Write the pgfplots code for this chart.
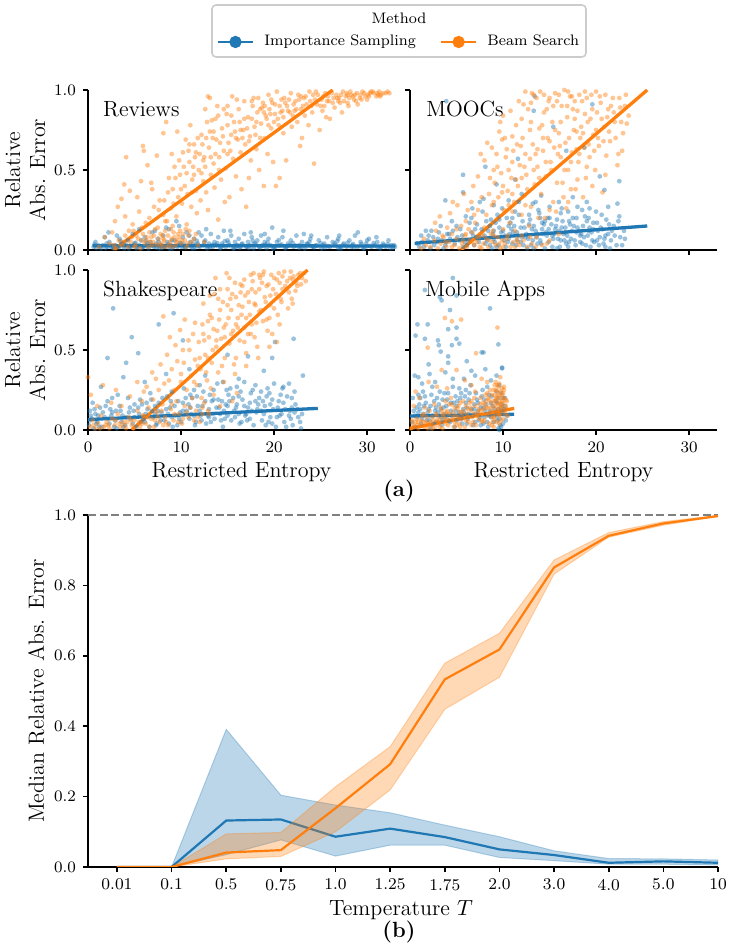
\documentclass[border=0pt]{standalone}
\usepackage{pgfplots}
\pgfplotsset{compat=1.18}
\definecolor{tabblue}{HTML}{1F77B4}
\definecolor{tabor}{HTML}{FF7F0E}
\tikzset{ptitle/.style={anchor=base west, inner sep=0pt, font=\fontsize{11}{13}\selectfont}}
\pgfplotsset{
  scat/.style={only marks, mark=*, color=#1, mark size=1.2pt, mark options={fill=#1, draw opacity=0, fill opacity=0.45}},
  reg/.style={no marks, line width=1.65pt, color=#1},
  base/.style={scale only axis, axis x line*=bottom, axis y line*=left,
    axis line style={-, line width=0.8pt}, tick align=outside, major tick length=2.5pt,
    tick style={line width=0.8pt, black},
    yticklabel style={/pgf/number format/fixed, /pgf/number format/fixed zerofill, /pgf/number format/precision=1},
    tick label style={font=\fontsize{8.2}{9}\selectfont},
    label style={font=\fontsize{11}{12.5}\selectfont}},
  panel/.style={base, width=153.5pt, height=80pt, xmin=0, xmax=33, ymin=0, ymax=1,
    xtick={0,10,20,30}, ytick={0,0.5,1}},
  leftlab/.style={ylabel={Relative\\Abs. Error}, ylabel style={at={(axis description cs:-0.205,0.5)}, anchor=center, align=center}},
  botlab/.style={xlabel={Restricted Entropy}, xlabel style={at={(axis description cs:0.5,0)}, anchor=base, yshift=-23.9pt}}
}
\begin{document}
\begin{tikzpicture}
\useasboundingbox (0,0) rectangle (365pt,475.5pt);
% legend frame
\draw[draw=black!20, line width=0.8pt, rounded corners=2pt, fill=white] (106pt,447pt) rectangle (293pt,473pt);
\node[font=\fontsize{7.6}{9}\selectfont] at (199.5pt,466.5pt) {Method};

% ---------------- Reviews ----------------
\begin{axis}[panel, leftlab, at={(44pt,350.5pt)}, anchor=south west, xticklabels={},
  legend columns=2, legend cell align=left,
  legend style={at={(1.016,1.3)}, anchor=center, draw=none, fill=none, font=\fontsize{7.6}{9}\selectfont,
    /tikz/every odd column/.append style={column sep=3pt},
    /tikz/every even column/.append style={column sep=10pt}},
  legend image code/.code={\draw[mark repeat=2,mark phase=2,#1] plot coordinates {(0pt,0pt) (8.75pt,0pt) (17.5pt,0pt)};}]
\addlegendimage{tabblue, line width=1.3pt, mark=*, mark size=2.4pt}
\addlegendentry{Importance Sampling}
\addlegendimage{tabor, line width=1.3pt, mark=*, mark size=2.4pt}
\addlegendentry{Beam Search}
\addplot[scat=tabblue] coordinates {
(0.6,0.02) (1.1,0.03) (1.4,0.01) (1.8,0.08) (2.1,0.02) (2.3,0.05) (2.7,0.01) (2.9,0.03) (3.2,0.02) (3.4,0.07) (3.6,0.04) (3.9,0.01) (4.1,0.03) (4.3,0.06) (4.6,0.02) (4.8,0.1) (5.0,0.04) (5.2,0.01) (5.5,0.03) (5.7,0.06) (5.9,0.02) (6.1,0.08) (6.3,0.03) (6.5,0.01) (6.7,0.05) (6.9,0.11) (7.1,0.02) (7.3,0.04) (7.5,0.07) (7.7,0.01) (7.9,0.03) (8.1,0.09) (8.3,0.02) (8.5,0.05) (8.7,0.13) (8.9,0.03) (9.1,0.01) (9.3,0.06) (9.5,0.18) (9.6,0.02) (9.8,0.15) (10.0,0.04) (10.2,0.08) (10.4,0.02) (10.6,0.11) (10.8,0.03) (11.0,0.05) (11.2,0.01) (11.4,0.07) (11.6,0.03) (11.8,0.04) (12.0,0.02) (12.2,0.09) (12.4,0.03) (12.6,0.06) (12.8,0.01) (13.0,0.04) (13.2,0.1) (13.4,0.02) (13.6,0.05) (13.8,0.03) (14.0,0.08) (14.2,0.01) (14.4,0.04) (14.6,0.12) (14.8,0.02) (15.0,0.06) (15.2,0.03) (15.4,0.09) (15.6,0.01) (15.8,0.05) (16.0,0.03) (16.2,0.07) (16.4,0.02) (16.6,0.04) (16.8,0.1) (17.0,0.02) (17.2,0.05) (17.4,0.03) (17.6,0.08) (17.8,0.01) (18.0,0.04) (18.2,0.06) (18.4,0.02) (18.6,0.09) (18.8,0.03) (19.0,0.05) (19.2,0.01) (19.4,0.07) (19.6,0.03) (19.8,0.14) (20.0,0.02) (20.3,0.05) (20.6,0.03) (20.9,0.08) (21.2,0.01) (21.5,0.04) (21.8,0.06) (22.1,0.02) (22.4,0.09) (22.7,0.03) (23.0,0.05) (23.3,0.01) (23.6,0.04) (23.9,0.07) (24.2,0.02) (24.5,0.03) (24.8,0.06) (25.1,0.01) (25.4,0.04) (25.7,0.08) (26.0,0.02) (26.3,0.05) (26.6,0.03) (26.9,0.07) (27.2,0.01) (27.5,0.04) (27.8,0.02) (28.1,0.06) (28.4,0.03) (28.7,0.09) (29.0,0.02) (29.3,0.05) (29.6,0.01) (29.9,0.04) (30.2,0.07) (30.5,0.02) (30.8,0.03) (31.1,0.05) (31.4,0.01) (31.7,0.04) (32.0,0.02) (32.3,0.06) (32.6,0.03) (33,0.02)
(0.9,0.012) (2.5,0.018) (4.4,0.009) (6.0,0.022) (7.4,0.015) (8.8,0.008) (10.1,0.019) (11.5,0.012) (12.9,0.025) (14.3,0.017) (15.7,0.011) (17.1,0.021) (18.5,0.014) (19.9,0.008) (21.3,0.019) (22.7,0.013) (24.1,0.024) (25.5,0.016) (26.9,0.01) (28.3,0.02) (29.7,0.013) (31.1,0.018) (32.5,0.011) (1.6,0.03) (3.0,0.025) (5.3,0.018) (6.8,0.029) (8.2,0.02) (9.7,0.03) (11.1,0.024) (13.5,0.032) (16.1,0.028) (18.9,0.026) (21.7,0.031) (24.6,0.027) (27.4,0.033) (30.3,0.025) (32.9,0.03)
(0.7,0.035) (1.3,0.022) (2.0,0.04) (2.6,0.028) (3.3,0.015) (3.8,0.038) (4.5,0.026) (5.1,0.045) (5.8,0.012) (6.4,0.04) (7.0,0.03) (7.6,0.05) (8.0,0.014) (8.6,0.037) (9.2,0.024) (9.9,0.045) (10.5,0.016) (11.3,0.04) (11.9,0.027) (12.5,0.05) (13.1,0.019) (13.9,0.042) (14.5,0.028) (15.1,0.045) (15.9,0.02) (16.5,0.036) (17.3,0.013) (17.9,0.04) (18.7,0.027) (19.3,0.046) (20.1,0.018) (20.8,0.035) (21.4,0.025) (22.0,0.044) (22.9,0.02) (23.5,0.038) (24.3,0.016) (25.0,0.042) (25.8,0.025) (26.5,0.04) (27.1,0.02) (27.9,0.045) (28.6,0.017) (29.4,0.037) (30.0,0.024) (30.7,0.043) (31.5,0.02) (32.2,0.036) (32.8,0.014) (7.2,0.12) (10.9,0.09) (12.7,0.13) (17.5,0.11) (23.2,0.1) (27.0,0.09) (31.0,0.08) (5.5,0.13) (3.1,0.09)
(0.8,0.05) (1.9,0.012) (3.5,0.055) (4.9,0.03) (6.2,0.055) (7.8,0.025) (9.0,0.06) (10.3,0.035) (11.7,0.058) (13.3,0.03) (14.7,0.055) (16.3,0.014) (17.7,0.058) (19.1,0.032) (20.5,0.062) (22.3,0.028) (23.8,0.05) (25.3,0.03) (26.8,0.055) (28.5,0.038) (30.0,0.06) (31.8,0.03) (2.2,0.11) (8.4,0.14) (11.9,0.11) (15.3,0.12) (19.0,0.1) (21.0,0.12) (24.0,0.09) (29.0,0.11)
};
\addplot[reg=tabblue] coordinates {(0.5,0.027) (33,0.025)};
\addplot[scat=tabor] coordinates {
(1.2,0.02) (1.8,0.08) (2.3,0.04) (2.6,0.11) (3.0,0.01) (3.3,0.06) (3.7,0.03) (4.0,0.09) (4.3,0.02) (4.6,0.05) (4.9,0.12) (5.1,0.03) (5.4,0.07) (5.6,0.01) (5.9,0.1) (6.1,0.04) (6.3,0.06) (6.5,0.02) (6.8,0.08) (7.0,0.05) (7.2,0.13) (7.4,0.03) (7.6,0.07) (7.8,0.1) (8.0,0.04) (8.2,0.06) (8.4,0.02) (8.6,0.09) (8.8,0.05) (9.0,0.07) (9.2,0.11) (9.4,0.03) (9.6,0.06) (9.8,0.08) (10.0,0.04) (10.2,0.1) (10.4,0.06) (10.6,0.02) (10.8,0.09) (11.1,0.05) (11.4,0.07) (11.8,0.03) (6.6,0.11) (8.9,0.13) (7.9,0.02) (9.9,0.12) (5.2,0.09)
(3.6,0.32) (4.0,0.21) (4.1,0.58) (4.5,0.37) (5.3,0.33) (5.7,0.43) (5.9,0.65) (6.0,0.62) (6.4,0.53) (6.8,0.42) (6.9,0.38) (7.1,0.27) (7.7,0.31) (8.1,0.22) (8.1,0.73) (8.4,0.8) (2.9,0.18) (3.2,0.27) (4.8,0.16) (5.5,0.24) (6.2,0.17) (3.9,0.41) (7.4,0.59)
(8.2,0.31) (8.5,0.18) (8.7,0.45) (8.9,0.26) (9.1,0.38) (9.3,0.52) (9.5,0.21) (9.7,0.33) (9.9,0.47) (10.1,0.29) (10.2,0.61) (10.4,0.4) (10.6,0.16) (10.7,0.35) (10.9,0.55) (11.1,0.27) (11.2,0.44) (11.4,0.66) (11.6,0.37) (11.7,0.23) (11.9,0.5) (12.1,0.31) (12.2,0.72) (12.4,0.43) (12.5,0.58) (12.7,0.36) (12.9,0.25) (13.0,0.64) (13.2,0.47) (13.3,0.81) (13.5,0.54) (13.6,0.39) (13.8,0.69) (14.0,0.19) (14.1,0.58) (14.3,0.44) (14.4,0.76) (14.6,0.62) (14.8,0.51) (14.9,0.85) (15.1,0.67) (15.2,0.33) (15.4,0.72) (15.6,0.57) (15.7,0.8) (15.9,0.46) (16.1,0.69) (16.2,0.88) (16.4,0.61) (16.5,0.38) (16.7,0.75) (16.9,0.66) (17.0,0.27) (17.2,0.83) (17.4,0.71) (17.5,0.56) (17.7,0.9) (17.9,0.77) (18.1,0.63) (18.2,0.86) (18.4,0.5) (18.6,0.79) (18.8,0.92) (19.0,0.7) (19.1,0.84) (19.3,0.6) (19.5,0.88) (19.7,0.76) (19.9,0.55) (20.1,0.91) (20.2,0.4) (20.4,0.82) (20.6,0.45) (20.8,0.94) (21.0,0.73) (21.3,0.56) (21.5,0.87) (12.8,0.8) (13.4,0.7) (11.0,0.78) (9.6,0.74) (10.5,0.69) (12.0,0.6) (14.7,0.3) (16.0,0.94) (17.3,0.45) (18.9,0.4) (11.3,0.52) (9.0,0.6) (13.9,0.9) (15.5,0.96) (12.9,0.96) (13.1,0.95)
(18.3,0.95) (18.7,0.89) (19.4,0.97) (19.8,0.92) (20.3,0.99) (20.7,0.86) (21.1,0.95) (21.4,0.9) (21.8,0.98) (22.0,0.84) (22.3,0.93) (22.6,0.97) (22.9,0.88) (23.2,0.95) (23.5,0.91) (23.8,0.99) (24.1,0.86) (24.4,0.94) (24.7,0.97) (25.0,0.9) (25.3,0.96) (25.6,0.83) (25.9,0.93) (26.2,0.98) (26.5,0.89) (26.8,0.95) (27.1,0.92) (27.4,0.99) (27.7,0.96) (28.0,0.9) (28.3,0.97) (28.6,0.94) (28.9,0.98) (29.2,0.95) (29.5,0.99) (29.8,0.96) (30.1,0.97) (30.4,0.99) (30.7,0.98) (31.0,0.96) (31.3,0.99) (31.7,0.98) (32.2,0.99) (22.5,0.8) (23.7,0.78) (24.9,0.75) (21.9,0.77) (26.0,0.82) (27.3,0.86) (19.2,0.82) (20.5,0.78) (23.0,0.7) (24.3,0.54) (22.8,0.65) (25.4,0.9) (26.9,0.93) (28.1,0.95) (29.0,0.91) (30.0,0.94) (31.2,0.97) (27.9,0.97)
(10.3,0.52) (10.8,0.62) (11.5,0.58) (12.3,0.66) (12.6,0.52) (13.1,0.74) (13.7,0.6) (14.2,0.67) (14.5,0.71) (15.0,0.78) (15.3,0.62) (15.8,0.74) (16.3,0.8) (16.6,0.7) (17.1,0.76) (17.6,0.82) (18.0,0.72) (18.5,0.88) (19.0,0.9) (19.6,0.85) (20.0,0.8) (20.9,0.87) (21.2,0.92) (21.7,0.86) (22.1,0.91) (22.4,0.88) (22.7,0.94) (23.1,0.9) (23.4,0.96) (23.9,0.93) (24.2,0.97) (24.6,0.91) (25.1,0.94) (25.5,0.98) (25.8,0.96) (26.3,0.92) (26.7,0.97) (27.0,0.95) (27.5,0.93) (27.8,0.98) (28.2,0.99) (28.5,0.96) (28.8,0.93) (29.3,0.97) (29.7,0.98) (30.2,0.96) (30.6,0.99) (31.1,0.98) (31.5,0.97) (32.0,0.98) (14.0,0.84) (15.0,0.9) (16.8,0.93) (17.8,0.95) (12.6,0.88) (11.8,0.7) (10.9,0.66) (9.4,0.45) (8.6,0.36) (9.8,0.56) (6.3,0.08) (7.1,0.09) (7.7,0.04) (8.3,0.12) (8.7,0.03) (9.3,0.08) (9.7,0.1) (10.1,0.06) (10.5,0.13) (6.9,0.03) (5.8,0.06) (4.7,0.08) (7.5,0.14) (8.0,0.09) (9.1,0.15) (10.9,0.12)
(10.6,0.48) (11.2,0.36) (11.6,0.61) (12.2,0.48) (12.7,0.7) (13.2,0.58) (13.7,0.82) (14.1,0.5) (14.6,0.88) (15.0,0.6) (15.4,0.84) (15.9,0.7) (16.4,0.75) (16.8,0.82) (17.3,0.68) (17.6,0.93) (18.1,0.8) (18.5,0.7) (18.9,0.86) (19.4,0.78) (19.7,0.94) (20.1,0.85) (20.6,0.9) (21.0,0.83) (21.6,0.94) (22.2,0.87) (22.9,0.96) (23.3,0.84) (24.0,0.9) (24.5,0.99) (25.2,0.87) (25.7,0.93) (26.4,0.95) (27.2,0.97) (27.9,0.92) (28.7,0.97) (29.4,0.94) (30.3,0.98) (31.4,0.96) (32.4,0.98) (13.5,0.74) (12.4,0.56) (11.4,0.47) (10.0,0.38) (9.2,0.29) (8.3,0.18) (7.6,0.25) (6.6,0.2) (5.8,0.14) (4.4,0.12) (3.8,0.05) (2.8,0.03) (5.0,0.02) (6.7,0.05) (8.1,0.07) (9.5,0.05) (10.7,0.04) (11.6,0.1) (12.5,0.05) (9.0,0.02)
};
\addplot[reg=tabor] coordinates {(2.7,0) (26.3,1.0)};
\node[ptitle] at (rel axis cs:0.048,0.837) {Reviews};
\end{axis}

% ---------------- MOOCs ----------------
\begin{axis}[panel, at={(205pt,350.5pt)}, anchor=south west, xticklabels={}, yticklabels={}]
\addplot[scat=tabblue] coordinates {
(0.8,0.04) (1.2,0.09) (1.5,0.02) (1.9,0.06) (2.3,0.12) (2.6,0.03) (3.0,0.07) (3.3,0.15) (3.6,0.01) (3.9,0.05) (4.2,0.1) (4.5,0.18) (4.8,0.04) (5.1,0.08) (5.4,0.13) (5.7,0.02) (6.0,0.21) (6.3,0.06) (6.6,0.11) (6.9,0.03) (7.2,0.16) (7.5,0.08) (7.8,0.24) (8.1,0.04) (8.4,0.12) (8.7,0.19) (9.0,0.07) (9.3,0.02) (9.6,0.14) (9.9,0.26) (10.2,0.09) (10.5,0.05) (10.8,0.17) (11.1,0.11) (11.4,0.03) (11.7,0.22) (12.0,0.08) (12.3,0.14) (12.6,0.01) (12.9,0.19) (13.2,0.06) (13.5,0.12) (13.8,0.25) (14.1,0.04) (14.4,0.16) (14.7,0.09) (15.0,0.2) (15.3,0.02) (15.6,0.13) (15.9,0.07) (16.2,0.23) (16.5,0.1) (16.8,0.04) (17.1,0.18) (17.4,0.12) (17.7,0.06) (18.0,0.27) (18.3,0.09) (18.6,0.15) (18.9,0.03) (19.2,0.2) (19.5,0.11) (19.8,0.05) (20.1,0.17) (20.4,0.08) (20.7,0.13) (21.0,0.02) (21.3,0.1) (21.6,0.06) (21.9,0.15) (22.2,0.03) (22.6,0.08) (23.0,0.12)
(8.3,0.06) (8.9,0.1) (9.5,0.03) (10.0,0.12) (10.6,0.07) (11.2,0.15) (11.9,0.05) (12.5,0.1) (13.0,0.03) (13.6,0.08) (14.2,0.13) (14.9,0.05) (15.5,0.1) (16.1,0.02) (16.7,0.14) (17.3,0.07) (17.9,0.11) (18.5,0.04) (19.1,0.09) (19.7,0.13) (20.3,0.03) (20.9,0.07) (9.2,0.17) (10.4,0.2) (11.6,0.09) (12.8,0.16) (14.0,0.2) (15.2,0.16) (16.4,0.18) (17.6,0.15) (18.8,0.21) (20.0,0.24) (13.3,0.01) (15.8,0.01) (17.0,0.02) (19.4,0.02) (21.5,0.01) (7.0,0.13) (6.4,0.17) (5.6,0.09) (4.3,0.07) (3.1,0.11) (2.0,0.09) (9.7,0.08) (11.0,0.04) (14.6,0.11) (18.2,0.12)
(8.0,0.09) (8.6,0.15) (9.1,0.05) (9.8,0.11) (10.3,0.02) (10.9,0.13) (11.5,0.06) (12.1,0.18) (12.7,0.07) (13.1,0.13) (13.7,0.04) (14.3,0.1) (14.8,0.2) (15.4,0.07) (16.0,0.12) (16.6,0.06) (17.2,0.16) (17.8,0.03) (18.4,0.1) (19.0,0.18) (19.6,0.06) (20.2,0.12) (20.8,0.04) (21.4,0.16) (22.0,0.09) (22.8,0.03) (7.4,0.05) (6.8,0.09) (6.1,0.03) (5.3,0.06) (4.6,0.12) (3.8,0.03) (2.9,0.05) (2.2,0.01) (1.3,0.05) (9.4,0.22) (11.3,0.24) (13.9,0.23) (16.3,0.26) (18.5,0.25) (20.6,0.22) (12.2,0.03) (14.5,0.01) (16.9,0.09) (19.3,0.14) (21.1,0.19) (10.7,0.1) (15.7,0.15) (17.9,0.2) (8.8,0.01)
(5.0,0.15) (5.9,0.05) (6.6,0.2) (7.1,0.08) (7.7,0.13) (8.2,0.18) (8.6,0.03) (9.0,0.12) (9.6,0.19) (10.1,0.06) (10.6,0.15) (11.0,0.2) (11.5,0.11) (11.9,0.14) (12.4,0.08) (12.8,0.22) (13.3,0.15) (13.7,0.1) (14.0,0.06) (14.5,0.18) (14.9,0.13) (15.3,0.09) (15.8,0.19) (16.2,0.06) (16.7,0.11) (17.1,0.05) (17.5,0.2) (18.0,0.14) (18.3,0.05) (18.7,0.08) (19.2,0.12) (19.7,0.17) (20.1,0.06) (20.5,0.14) (21.0,0.09) (21.7,0.12) (22.4,0.18) (23.1,0.07) (4.0,0.1) (3.4,0.06) (2.5,0.08) (1.7,0.12) (1.0,0.02) (13.5,0.3) (15.0,0.27) (17.0,0.24) (19.3,0.26) (11.7,0.3) (9.0,0.28) (7.5,0.3) (6.7,0.26) (21.3,0.27) (14.2,0.17) (16.3,0.14)
(13.4,0.96) (13.3,0.87) (3.9,0.93) (19.6,0.91) (15.4,0.77) (18.75,0.64) (16.8,0.62) (11.6,0.57) (8.1,0.52) (5.7,0.47) (22.5,0.43) (20.4,0.46) (20.9,0.375) (9.3,0.41) (3.8,0.31) (5.7,0.36) (7.9,0.32) (14.1,0.34) (13.2,0.29) (22.3,0.29) (22.5,0.21) (16.0,0.3) (17.5,0.33) (12.0,0.35) (10.6,0.31) (19.0,0.3) (11.3,0.44)
};
\addplot[reg=tabblue] coordinates {(0.5,0.042) (25.5,0.15)};
\addplot[scat=tabor] coordinates {
(1.2,0.01) (1.7,0.03) (2.2,0.02) (2.6,0.06) (3.0,0.01) (3.3,0.04) (3.6,0.08) (3.9,0.02) (4.2,0.05) (4.5,0.1) (4.8,0.03) (5.0,0.07) (5.3,0.01) (5.6,0.04) (5.9,0.09) (6.1,0.02) (6.4,0.06) (6.7,0.11) (6.9,0.03) (7.2,0.05) (7.4,0.08) (7.7,0.01) (7.9,0.04) (8.2,0.07) (8.4,0.02) (8.7,0.1) (8.9,0.05) (9.2,0.03) (9.4,0.08) (9.7,0.01) (9.9,0.06) (10.2,0.04) (10.5,0.09) (10.8,0.02) (11.1,0.05) (11.5,0.07) (11.8,0.03) (12.2,0.06) (12.6,0.02) (13.1,0.04) (13.6,0.08) (14.2,0.03) (2.8,0.12) (4.0,0.14) (5.5,0.15) (6.3,0.13) (7.0,0.17) (8.0,0.14) (3.5,0.09) (1.5,0.07)
(3.2,0.21) (4.3,0.23) (5.1,0.28) (4.6,0.3) (5.8,0.35) (6.6,0.3) (6.8,0.4) (7.3,0.46) (8.0,0.56) (7.6,0.6) (8.3,0.67) (8.8,0.64) (9.6,0.74) (9.9,0.69) (10.0,0.84) (9.0,0.5) (2.7,0.17)
(8.2,0.22) (8.5,0.35) (8.8,0.28) (9.1,0.42) (9.3,0.19) (9.5,0.33) (9.8,0.48) (10.1,0.25) (10.3,0.58) (10.5,0.37) (10.7,0.17) (10.9,0.45) (11.1,0.62) (11.2,0.3) (11.4,0.78) (11.6,0.4) (11.8,0.53) (12.0,0.22) (12.1,0.7) (12.3,0.34) (12.5,0.47) (12.7,0.88) (12.9,0.57) (13.0,0.27) (13.2,0.66) (13.4,0.41) (13.6,0.95) (13.7,0.52) (13.9,0.76) (14.1,0.35) (14.3,0.62) (14.4,0.86) (14.6,0.46) (14.8,0.7) (15.0,0.25) (15.1,0.55) (15.3,0.8) (15.5,0.64) (15.6,0.98) (15.8,0.42) (16.0,0.73) (16.2,0.58) (16.3,0.9) (16.5,0.33) (16.7,0.67) (16.9,0.83) (17.0,0.5) (17.2,0.96) (17.4,0.61) (17.6,0.75) (17.8,0.38) (18.0,0.87) (18.1,0.55) (18.3,0.7) (18.5,0.93) (18.7,0.64) (18.9,0.45) (19.1,0.8) (19.3,0.58) (19.5,0.97) (19.7,0.72) (19.9,0.5) (20.1,0.86) (20.3,0.65) (20.5,0.92) (20.7,0.36) (20.9,0.77) (21.1,0.59) (21.3,0.88) (21.5,0.68) (21.8,0.95) (22.0,0.8) (22.3,0.53) (22.6,0.89) (22.9,0.73) (23.2,0.97) (23.5,0.84) (12.4,0.99) (13.3,0.97) (14.0,0.99) (11.7,0.93) (10.8,0.87) (9.7,0.8) (14.9,0.93) (16.6,1.0) (18.8,0.99) (17.9,0.74) (13.8,0.2) (15.4,0.3) (16.8,0.26) (18.6,0.33) (19.6,0.4) (17.3,0.38) (12.8,0.15) (11.3,0.12)
(10.0,0.4) (10.6,0.5) (11.0,0.35) (11.5,0.66) (12.0,0.45) (12.4,0.6) (12.9,0.75) (13.3,0.5) (13.7,0.63) (14.2,0.78) (14.6,0.55) (15.0,0.68) (15.4,0.9) (15.9,0.6) (16.2,0.8) (16.6,0.5) (17.1,0.7) (17.5,0.88) (17.9,0.63) (18.4,0.77) (18.8,0.85) (19.2,0.66) (19.6,0.88) (20.0,0.75) (20.4,0.96) (20.8,0.68) (21.2,0.83) (21.6,0.9) (22.1,0.7) (22.5,0.95) (22.8,0.62) (23.3,0.79) (14.4,0.97) (15.0,0.95) (16.0,0.97) (17.0,0.99) (17.7,0.93) (18.2,0.97) (19.0,0.95) (13.0,0.92) (12.0,0.82) (11.0,0.71) (10.4,0.63) (9.3,0.6) (8.6,0.45) (7.7,0.33) (6.9,0.22) (6.0,0.18) (8.5,0.06) (9.6,0.04) (10.4,0.07) (11.3,0.02) (12.0,0.09) (4.5,0.02) (5.7,0.06) (7.5,0.02) (13.5,0.02) (15.0,0.06) (6.7,0.05) (8.9,0.12)
(9.0,0.3) (9.4,0.52) (9.9,0.36) (10.2,0.7) (10.6,0.28) (11.0,0.55) (11.4,0.44) (11.9,0.65) (12.3,0.52) (12.6,0.38) (13.0,0.8) (13.5,0.6) (13.9,0.45) (14.3,0.7) (14.7,0.88) (15.2,0.5) (15.6,0.75) (16.1,0.65) (16.4,0.42) (16.9,0.9) (17.3,0.55) (17.7,0.82) (18.2,0.6) (18.6,0.73) (19.0,0.52) (19.4,0.82) (19.8,0.62) (20.2,0.7) (20.6,0.82) (21.0,0.47) (21.4,0.74) (21.9,0.86) (22.4,0.6) (22.7,0.8) (23.1,0.9) (12.2,0.91) (13.1,0.98) (15.8,0.93) (17.4,0.96) (20.0,0.99) (21.0,0.97) (11.0,0.24) (12.4,0.28) (14.5,0.2) (15.7,0.24) (17.0,0.3) (18.0,0.44) (10.0,0.13) (7.3,0.25) (6.2,0.25) (5.0,0.13) (3.8,0.05) (6.0,0.1) (7.8,0.09) (9.0,0.09) (10.0,0.02) (11.6,0.05) (12.9,0.08) (14.7,0.04) (16.0,0.1)
};
\addplot[reg=tabor] coordinates {(5.5,0) (25.5,1.0)};
\node[ptitle] at (rel axis cs:0.052,0.837) {MOOCs};
\end{axis}

% ---------------- Shakespeare ----------------
\begin{axis}[panel, leftlab, botlab, at={(44pt,260.5pt)}, anchor=south west]
\addplot[scat=tabblue] coordinates {
(0.1,0.03) (0.2,0.12) (0.4,0.07) (0.6,0.01) (0.8,0.1) (1.0,0.05) (1.3,0.14) (1.5,0.02) (1.8,0.08) (2.1,0.18) (2.3,0.04) (2.6,0.11) (2.9,0.06) (3.1,0.01) (3.4,0.15) (3.7,0.09) (4.0,0.03) (4.3,0.2) (4.6,0.07) (4.9,0.12) (5.2,0.02) (5.5,0.1) (5.8,0.16) (6.1,0.05) (6.4,0.13) (6.7,0.23) (7.0,0.08) (7.3,0.03) (7.6,0.17) (7.9,0.11) (8.2,0.06) (8.5,0.21) (8.8,0.14) (9.1,0.02) (9.4,0.09) (9.7,0.18) (10.0,0.05) (10.3,0.26) (10.6,0.12) (10.9,0.07) (11.2,0.2) (11.5,0.03) (11.8,0.15) (12.1,0.09) (12.4,0.24) (12.7,0.04) (13.0,0.13) (13.3,0.18) (13.6,0.07) (13.9,0.29) (14.2,0.1) (14.5,0.02) (14.8,0.16) (15.1,0.22) (15.4,0.06) (15.7,0.12) (16.0,0.27) (16.3,0.04) (16.6,0.19) (16.9,0.09) (17.2,0.14) (17.5,0.23) (17.8,0.03) (18.1,0.11) (18.4,0.2) (18.7,0.06) (19.0,0.15) (19.3,0.26) (19.6,0.08) (19.9,0.13) (20.2,0.02) (20.5,0.18) (20.8,0.1) (21.1,0.05) (21.4,0.21) (21.7,0.12) (22.0,0.03) (22.3,0.16) (22.6,0.08) (22.9,0.01)
(1.1,0.09) (2.4,0.13) (3.6,0.05) (5.0,0.08) (6.2,0.1) (7.5,0.12) (8.7,0.04) (9.9,0.11) (11.0,0.14) (12.2,0.06) (13.4,0.1) (14.6,0.12) (15.8,0.08) (17.0,0.1) (18.2,0.13) (19.4,0.05) (20.6,0.09) (21.8,0.07) (14.0,0.19) (15.0,0.15) (16.2,0.21) (17.4,0.17) (18.6,0.24) (19.8,0.19) (20.9,0.26) (21.9,0.14) (13.1,0.22) (11.4,0.25) (10.2,0.17) (9.0,0.24) (7.2,0.15) (5.6,0.19) (3.2,0.22) (0.5,0.17) (22.2,0.24) (16.8,0.3) (18.0,0.28) (12.0,0.28) (14.3,0.06) (16.5,0.05) (19.1,0.03) (21.3,0.02)
(0.3,0.09) (0.9,0.04) (1.6,0.11) (2.2,0.07) (2.8,0.02) (3.5,0.12) (4.1,0.08) (4.8,0.04) (5.4,0.14) (6.0,0.07) (6.6,0.02) (7.2,0.1) (7.8,0.06) (8.4,0.13) (9.0,0.08) (9.6,0.03) (10.2,0.12) (10.8,0.16) (11.4,0.09) (12.0,0.12) (12.6,0.18) (13.2,0.05) (13.8,0.14) (14.4,0.18) (15.0,0.09) (15.6,0.2) (16.2,0.1) (16.8,0.15) (17.4,0.07) (18.0,0.18) (18.6,0.12) (19.2,0.21) (19.8,0.04) (20.4,0.14) (21.0,0.17) (21.6,0.09) (22.2,0.11) (22.8,0.05) (17.7,0.25) (19.5,0.23) (15.3,0.26) (13.5,0.25) (11.7,0.21) (20.0,0.29) (21.0,0.27)
(0.2,0.06) (0.7,0.13) (1.2,0.02) (1.9,0.15) (2.5,0.09) (3.0,0.12) (3.8,0.02) (4.4,0.11) (5.0,0.16) (5.7,0.05) (6.3,0.17) (6.9,0.12) (7.4,0.04) (8.0,0.2) (8.6,0.1) (9.3,0.15) (9.8,0.07) (10.5,0.2) (11.1,0.1) (11.6,0.05) (12.3,0.15) (12.9,0.09) (13.5,0.19) (14.1,0.14) (14.7,0.07) (15.2,0.18) (15.9,0.14) (16.4,0.24) (17.1,0.06) (17.6,0.12) (18.3,0.16) (18.9,0.1) (19.6,0.16) (20.3,0.08) (20.7,0.22) (21.2,0.13) (21.9,0.2) (22.5,0.13) (23.0,0.1) (14.9,0.25) (16.0,0.16) (18.8,0.18) (13.0,0.08) (11.0,0.22) (8.9,0.18) (6.8,0.19) (4.5,0.14) (2.6,0.2)
(2.7,0.76) (9.2,0.73) (4.7,0.58) (2.1,0.45) (4.1,0.42) (7.6,0.66) (10.2,0.56) (5.4,0.48) (20.1,0.55) (22.1,0.57) (23.1,0.34) (19.8,0.45) (14.5,0.3) (16.2,0.32) (17.2,0.46) (12.6,0.34) (8.4,0.35) (6.1,0.3) (1.4,0.27) (3.8,0.33) (10.9,0.38) (15.0,0.47) (18.9,0.37) (21.6,0.29)
};
\addplot[reg=tabblue] coordinates {(0,0.065) (24.7,0.135)};
\addplot[scat=tabor] coordinates {
(0.2,0.02) (0.5,0.06) (0.8,0.01) (1.1,0.04) (1.4,0.09) (1.7,0.02) (2.0,0.05) (2.3,0.01) (2.6,0.07) (2.9,0.03) (3.2,0.1) (3.5,0.02) (3.8,0.05) (4.1,0.01) (4.4,0.08) (4.7,0.03) (5.0,0.06) (5.3,0.12) (5.6,0.02) (5.9,0.09) (6.2,0.04) (6.5,0.14) (6.8,0.07) (7.1,0.02) (7.4,0.11) (7.7,0.05) (8.0,0.16) (8.3,0.08) (8.6,0.03) (8.9,0.13) (9.2,0.06) (9.5,0.18) (9.8,0.1) (10.1,0.04) (10.4,0.15) (10.8,0.08) (11.2,0.2) (11.6,0.12) (12.0,0.05) (12.5,0.17) (13.0,0.1) (13.5,0.22) (1.0,0.15) (2.5,0.17) (0.0,0.33) (0.3,0.22) (4.5,0.21) (3.6,0.15) (6.0,0.24) (7.0,0.19)
(5.3,0.3) (6.3,0.27) (6.9,0.36) (7.3,0.32) (7.8,0.41) (8.2,0.29) (8.5,0.47) (8.1,0.71) (9.9,0.625) (10.4,0.69) (9.0,0.38) (9.4,0.53) (7.6,0.25) (5.8,0.18) (1.6,0.28) (3.0,0.25) (10.0,0.3) (8.8,0.58)
(10.3,0.42) (10.6,0.25) (10.9,0.5) (11.1,0.34) (11.3,0.6) (11.5,0.44) (11.7,0.28) (11.9,0.55) (12.1,0.38) (12.3,0.66) (12.4,0.79) (12.6,0.47) (12.8,0.31) (13.0,0.58) (13.1,0.72) (13.3,0.42) (13.5,0.63) (13.6,0.85) (13.8,0.52) (14.0,0.36) (14.1,0.69) (14.3,0.57) (14.5,0.8) (14.7,0.45) (14.8,0.66) (15.0,0.88) (15.2,0.95) (15.2,0.54) (15.4,0.75) (15.6,0.62) (15.7,0.41) (15.9,0.83) (16.1,0.7) (16.3,0.56) (16.4,0.91) (16.6,0.77) (16.8,0.94) (16.8,0.64) (17.0,0.48) (17.2,0.86) (17.4,0.72) (17.5,0.6) (17.7,0.93) (17.9,0.79) (18.1,0.67) (18.2,0.52) (18.4,0.88) (18.6,0.75) (18.8,0.97) (19.0,0.83) (19.2,0.69) (19.4,0.91) (19.6,0.78) (19.8,0.6) (20.0,0.95) (20.2,0.85) (20.4,0.72) (20.6,0.92) (20.8,0.8) (21.1,0.99) (21.3,0.88) (21.5,0.76) (21.7,0.95) (22.0,0.94) (22.0,0.79) (22.3,0.87) (22.6,0.97) (22.9,0.91) (23.2,0.98) (23.4,0.93) (12.2,0.2) (13.2,0.26) (14.6,0.3) (15.8,0.35) (17.0,0.4) (18.3,0.45) (16.0,0.23) (12.9,0.12) (11.8,0.08) (14.2,0.15) (15.5,0.18) (19.5,0.52) (20.3,0.55) (13.7,0.95) (14.9,0.98) (18.9,0.99) (17.8,0.98)
(12.0,0.45) (12.5,0.56) (12.9,0.68) (13.4,0.5) (13.9,0.62) (14.2,0.75) (14.7,0.58) (15.1,0.7) (15.5,0.85) (15.9,0.66) (16.2,0.78) (16.6,0.9) (17.0,0.7) (17.3,0.8) (17.6,0.66) (18.0,0.86) (18.4,0.74) (18.7,0.92) (19.1,0.8) (19.5,0.7) (19.9,0.88) (20.3,0.94) (20.7,0.82) (21.2,0.9) (21.6,0.86) (22.1,0.96) (22.5,0.9) (23.0,0.95) (21.9,0.82) (20.9,0.96) (19.7,0.97) (18.5,0.95) (17.5,0.97) (16.4,0.86) (15.3,0.82) (14.0,0.82) (13.1,0.84) (11.5,0.67) (10.8,0.56) (10.2,0.5) (9.6,0.43) (8.7,0.31) (0.6,0.03) (1.3,0.01) (2.2,0.03) (3.0,0.06) (3.9,0.03) (4.9,0.01) (5.8,0.04) (6.6,0.02) (7.5,0.08) (8.4,0.05) (9.3,0.1) (10.2,0.07) (11.0,0.14) (6.0,0.09) (7.9,0.12) (9.0,0.16) (12.3,0.1) (4.2,0.05)
(11.8,0.4) (12.4,0.6) (12.9,0.45) (13.3,0.7) (13.8,0.56) (14.2,0.88) (14.6,0.64) (15.0,0.78) (15.4,0.6) (15.8,0.92) (16.1,0.64) (16.5,0.72) (16.9,0.84) (17.2,0.6) (17.6,0.88) (18.0,0.78) (18.4,0.97) (18.8,0.68) (19.2,0.9) (19.6,0.84) (20.0,0.76) (20.5,0.98) (20.9,0.88) (21.4,0.93) (21.8,0.99) (22.4,0.92) (22.8,0.98) (10.0,0.35) (9.3,0.25) (8.6,0.2) (11.4,0.3) (12.7,0.36) (14.4,0.4) (15.9,0.45) (16.8,0.55) (17.9,0.58) (19.3,0.62) (20.6,0.66) (1.9,0.03) (3.4,0.04) (4.6,0.06) (5.5,0.05) (6.4,0.08) (7.2,0.06) (8.1,0.03) (9.7,0.05) (10.6,0.11) (11.4,0.06) (12.3,0.14)
};
\addplot[reg=tabor] coordinates {(4.7,0) (23.6,1.0)};
\node[ptitle] at (rel axis cs:0.048,0.837) {Shakespeare};
\end{axis}

% ---------------- Mobile Apps ----------------
\begin{axis}[panel, botlab, at={(205pt,260.5pt)}, anchor=south west, yticklabels={}]
\addplot[scat=tabblue] coordinates {
(0.2,0.05) (0.4,0.12) (0.6,0.02) (0.8,0.08) (1.0,0.16) (1.2,0.04) (1.4,0.1) (1.6,0.21) (1.8,0.06) (2.0,0.13) (2.2,0.01) (2.4,0.09) (2.6,0.18) (2.8,0.05) (3.0,0.11) (3.2,0.24) (3.4,0.03) (3.6,0.14) (3.8,0.08) (4.0,0.19) (4.2,0.06) (4.4,0.12) (4.6,0.27) (4.8,0.02) (5.0,0.15) (5.2,0.09) (5.4,0.2) (5.6,0.04) (5.8,0.11) (6.0,0.17) (6.2,0.07) (6.4,0.23) (6.6,0.13) (6.8,0.03) (7.0,0.1) (7.2,0.19) (7.4,0.06) (7.6,0.14) (7.8,0.25) (8.0,0.08) (8.2,0.16) (8.4,0.02) (8.6,0.12) (8.8,0.21) (9.0,0.05) (9.2,0.1) (9.4,0.17) (9.5,0.01) (9.6,0.07) (9.8,0.14) (10.0,0.04) (10.2,0.2) (10.4,0.09) (9.9,0.39)
(0.7,0.14) (1.3,0.07) (1.9,0.11) (2.5,0.04) (3.1,0.16) (3.7,0.1) (4.3,0.05) (4.9,0.12) (5.5,0.07) (6.1,0.14) (6.7,0.09) (7.3,0.12) (7.9,0.04) (8.5,0.09) (9.1,0.13) (9.7,0.03) (9.3,0.24) (8.3,0.27) (6.5,0.28) (5.3,0.26) (2.3,0.22) (1.1,0.2) (3.5,0.19) (4.7,0.17) (5.9,0.21) (7.1,0.23) (9.9,0.11) (10.3,0.06)
(0.9,0.11) (1.5,0.15) (2.1,0.06) (2.7,0.12) (3.3,0.08) (3.9,0.15) (4.5,0.09) (5.1,0.18) (5.7,0.13) (6.3,0.1) (6.9,0.16) (7.5,0.08) (8.1,0.12) (8.7,0.17) (9.3,0.09) (9.9,0.16) (2.9,0.2) (4.1,0.23) (6.3,0.19) (7.7,0.21) (8.9,0.15) (9.5,0.2) (1.7,0.17) (0.3,0.2) (5.5,0.23) (3.3,0.13) (7.0,0.05) (9.8,0.23) (10.1,0.13) (8.0,0.19)
(0.5,0.09) (1.1,0.13) (2.2,0.15) (3.5,0.06) (4.4,0.17) (5.3,0.11) (6.1,0.04) (6.9,0.13) (7.9,0.14) (8.7,0.08) (9.5,0.13) (10.2,0.15) (9.6,0.28) (8.5,0.22) (7.3,0.17) (6.0,0.25) (4.9,0.21) (3.7,0.23) (2.4,0.27) (1.4,0.24) (0.9,0.22) (9.4,0.06) (9.8,0.02) (9.6,0.0) (2.8,0.14) (5.0,0.06) (7.6,0.03) (8.3,0.05) (9.2,0.18) (10.0,0.2)
(4.6,0.95) (1.6,0.875) (3.2,0.83) (3.4,0.81) (5.0,0.84) (4.3,0.75) (8.6,0.76) (0.6,0.59) (1.6,0.57) (0.8,0.66) (1.9,0.66) (4.1,0.63) (5.0,0.64) (5.0,0.57) (4.5,0.53) (5.3,0.54) (3.0,0.56) (3.1,0.53) (3.3,0.49) (4.1,0.46) (6.1,0.43) (7.9,0.485) (7.7,0.485) (9.5,0.535) (2.0,0.41) (0.9,0.33) (2.1,0.35) (4.1,0.42) (7.0,0.34) (8.1,0.38) (9.9,0.385) (9.3,0.34) (0.5,0.34) (2.7,0.3) (3.8,0.36) (5.8,0.32) (6.6,0.37) (8.7,0.31) (1.3,0.29) (4.6,0.32)
};
\addplot[reg=tabblue] coordinates {(0,0.0875) (11.2,0.098)};
\addplot[scat=tabor] coordinates {
(0.1,0.01) (0.3,0.04) (0.5,0.02) (0.7,0.07) (0.9,0.01) (1.1,0.03) (1.3,0.09) (1.5,0.02) (1.7,0.05) (1.9,0.01) (2.1,0.12) (2.3,0.03) (2.5,0.06) (2.7,0.02) (2.9,0.09) (3.1,0.04) (3.3,0.14) (3.5,0.01) (3.7,0.07) (3.9,0.11) (4.1,0.03) (4.3,0.06) (4.5,0.16) (4.7,0.02) (4.9,0.09) (5.1,0.13) (5.3,0.04) (5.5,0.07) (5.7,0.18) (5.9,0.02) (6.1,0.1) (6.3,0.05) (6.5,0.14) (6.7,0.08) (6.9,0.2) (7.1,0.03) (7.3,0.11) (7.5,0.16) (7.7,0.06) (7.9,0.13) (8.1,0.22) (8.3,0.09) (8.5,0.04) (8.7,0.17) (8.9,0.12) (9.0,0.25) (9.1,0.07) (9.2,0.19) (9.3,0.14) (9.4,0.28) (9.5,0.1) (9.6,0.22) (9.7,0.16) (9.8,0.06) (9.9,0.26) (10.0,0.12) (10.1,0.2) (10.3,0.15) (10.5,0.09)
(0.6,0.05) (1.2,0.06) (1.8,0.08) (2.4,0.01) (3.0,0.05) (3.6,0.09) (4.2,0.1) (4.8,0.05) (5.4,0.11) (6.0,0.06) (6.6,0.12) (7.2,0.09) (7.8,0.1) (8.4,0.14) (9.0,0.11) (9.3,0.05) (9.6,0.13) (9.9,0.18) (8.8,0.08) (8.2,0.18) (7.6,0.2) (6.4,0.17) (5.2,0.15) (4.4,0.2) (3.8,0.18) (2.6,0.16) (1.6,0.14) (9.2,0.3) (9.7,0.33) (10.1,0.27) (8.6,0.25) (7.0,0.24)
(2.2,0.05) (2.8,0.1) (3.2,0.07) (3.8,0.04) (4.0,0.12) (4.6,0.08) (5.0,0.03) (5.6,0.1) (6.2,0.13) (6.8,0.05) (7.0,0.15) (7.4,0.07) (7.8,0.17) (8.0,0.06) (8.4,0.2) (8.6,0.11) (8.8,0.22) (9.0,0.15) (9.1,0.28) (9.3,0.2) (9.4,0.24) (9.5,0.16) (9.6,0.29) (9.7,0.1) (9.8,0.2) (9.9,0.14) (10.0,0.23) (10.2,0.1) (10.4,0.18) (8.9,0.05) (8.2,0.14) (7.6,0.12) (6.6,0.18) (6.0,0.15) (5.4,0.17) (4.8,0.14) (4.2,0.16) (3.4,0.12) (1.4,0.05) (0.8,0.03) (0.2,0.06) (9.0,0.02) (9.6,0.04) (10.0,0.07) (9.2,0.1)
(9.0,0.18) (9.1,0.22) (9.2,0.25) (9.3,0.17) (9.4,0.21) (9.5,0.27) (9.6,0.18) (9.7,0.24) (9.8,0.15) (9.9,0.22) (10.0,0.17) (10.1,0.25) (9.4,0.12) (9.6,0.09) (9.0,0.08) (8.7,0.14) (8.5,0.19) (8.0,0.16) (7.4,0.13) (6.9,0.1) (6.3,0.08) (5.7,0.12) (5.2,0.08) (4.6,0.11) (4.0,0.07) (3.5,0.1) (2.9,0.06) (2.4,0.08) (1.9,0.04) (1.5,0.1) (0.9,0.05) (0.4,0.02) (7.8,0.05) (6.6,0.03) (5.4,0.02) (8.8,0.03) (3.2,0.02) (10.3,0.19) (10.4,0.13) (8.3,0.23)
(3.75,0.7) (4.5,0.68) (5.5,0.69) (9.4,0.64) (1.9,0.515) (7.1,0.48) (5.0,0.375) (3.4,0.375) (7.7,0.32) (2.0,0.3) (0.6,0.24) (2.9,0.27) (5.9,0.31) (8.3,0.3) (6.6,0.28) (0.4,0.15) (4.0,0.26) (1.0,0.2)
};
\addplot[reg=tabor] coordinates {(0,0.01) (11.2,0.135)};
\node[ptitle] at (rel axis cs:0.049,0.837) {Mobile Apps};
\end{axis}

\node[anchor=base, font=\fontsize{11}{13}\selectfont\bfseries] at (199.5pt,227pt) {(a)};

% ---------------- Temperature ----------------
\begin{axis}[base, at={(44pt,42pt)}, anchor=south west, width=315pt, height=176pt,
  xmin=-0.53, xmax=11, ymin=0, ymax=1,
  xtick={0,...,11}, xticklabels={0.01,0.1,0.5,0.75,1.0,1.25,1.75,2.0,3.0,4.0,5.0,10},
  ytick={0,0.2,0.4,0.6,0.8,1},
  ylabel={Median Relative Abs. Error}, ylabel style={at={(axis description cs:-0.082,0.5)}, anchor=center},
  xlabel={Temperature $T$}, xlabel style={at={(axis description cs:0.497,0)}, anchor=base, yshift=-24pt}]
\addplot[gray, line width=0.7pt, dash pattern=on 4pt off 1.8pt] coordinates {(-0.53,1) (11,1)};
\addplot[fill=tabblue, fill opacity=0.3, draw=tabblue, draw opacity=0.3, line width=0.5pt] coordinates {
(0,0) (1,0) (2,0.391) (3,0.204) (4,0.176) (5,0.154) (6,0.119) (7,0.086) (8,0.046) (9,0.024) (10,0.023) (11,0.02)
(11,0.006) (10,0.008) (9,0.008) (8,0.018) (7,0.027) (6,0.062) (5,0.062) (4,0.031) (3,0.077) (2,0.035) (1,0) (0,0)} -- cycle;
\addplot[tabblue, line width=1.1pt] coordinates {
(0,0) (1,0) (2,0.132) (3,0.135) (4,0.086) (5,0.109) (6,0.085) (7,0.05) (8,0.034) (9,0.012) (10,0.016) (11,0.012)};
\addplot[fill=tabor, fill opacity=0.3, draw=tabor, draw opacity=0.3, line width=0.5pt] coordinates {
(0,0) (1,0) (2,0.094) (3,0.098) (4,0.228) (5,0.342) (6,0.579) (7,0.664) (8,0.872) (9,0.95) (10,0.981) (11,0.999)
(11,0.996) (10,0.971) (9,0.937) (8,0.832) (7,0.539) (6,0.448) (5,0.219) (4,0.1) (3,0.03) (2,0.023) (1,0) (0,0)} -- cycle;
\addplot[tabor, line width=1.1pt] coordinates {
(0,0) (1,0) (2,0.041) (3,0.048) (4,0.167) (5,0.292) (6,0.533) (7,0.618) (8,0.851) (9,0.941) (10,0.976) (11,0.997)};
\end{axis}
\node[anchor=base, font=\fontsize{11}{13}\selectfont\bfseries] at (199.5pt,6.5pt) {(b)};
\end{tikzpicture}
\end{document}
